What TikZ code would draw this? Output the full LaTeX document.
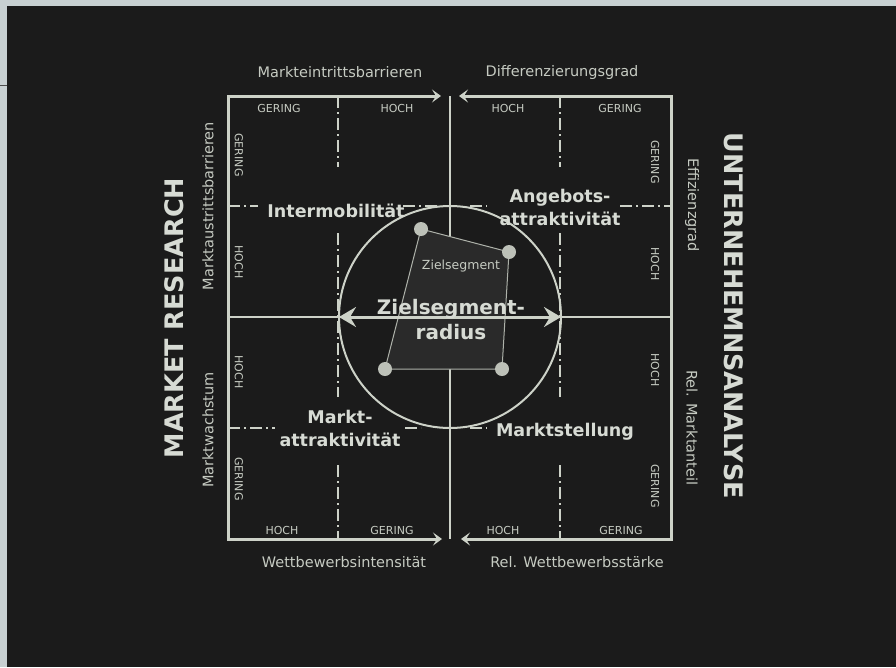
\documentclass[tikz,border=0pt]{standalone}
\usepackage{fontspec}
\setmainfont{DejaVu Sans}
\usetikzlibrary{arrows.meta,positioning,calc}
\definecolor{BoardDark}{RGB}{27,27,27}
\definecolor{FrameLight}{RGB}{200,208,210}
\definecolor{ChalkLine}{RGB}{205,210,200}
\definecolor{ChalkText}{RGB}{198,203,194}
\definecolor{SegFill}{RGB}{42,42,42}

\begin{document}
\begin{tikzpicture}[x=1pt,y=-1pt,
    axlbl/.style={text=ChalkText,font=\fontsize{14.5}{16}\selectfont,inner sep=0pt},
    lvl/.style={text=ChalkText,font=\fontsize{11}{12}\selectfont,inner sep=0pt},
    quad/.style={text=ChalkText!70!white,font=\fontsize{17.5}{23}\selectfont\bfseries,
               align=center,inner sep=0pt},
    side/.style={text=ChalkText!70!white,font=\fontsize{25.5}{28}\selectfont\bfseries,inner sep=0pt},
    frame/.style={draw=ChalkLine,line width=3pt,line cap=rect},
    edgearr/.style={-{Stealth[length=9pt,width=13pt,inset=4pt]},draw=ChalkLine,line width=3pt,line cap=rect},
    mid/.style={draw=ChalkLine,line width=1.6pt},
    dd/.style={draw=ChalkLine,line width=1.2pt,dash pattern=on 12pt off 4pt on 2pt off 4pt},
    ring/.style={draw=ChalkLine,line width=2pt},
    seg/.style={draw=ChalkLine!85!black,line width=1pt,fill=SegFill},
    dot/.style={circle,fill=ChalkLine!92!black,minimum size=14pt,inner sep=0pt},
    radarr/.style={{Stealth[length=17pt,width=20pt,inset=6pt]}-{Stealth[length=17pt,width=20pt,inset=6pt]},
               draw=ChalkLine,line width=3pt}
  ]
    \useasboundingbox (0,0) rectangle (896,667);
    \fill[FrameLight] (0,0) rectangle (896,667);
    \fill[BoardDark] (7,6) rectangle (896,667);
    \draw[black!70,line width=0.8pt] (0,85) -- (7,85);

    % quarter lines (dash-dot)
    \foreach \x in {338,560} {
      \draw[dd] (\x,96) -- (\x,167);
      \draw[dd] (\x,233) -- (\x,397);
      \draw[dd] (\x,465) -- (\x,539);
    }
    \draw[dd] (228,206) -- (258,206);
    \draw[dd] (403,206) -- (441,206);
    \draw[dd] (470,206) -- (487,206);
    \draw[dd] (620,206) -- (671,206);
    \draw[dd] (228,428) -- (275,428);
    \draw[dd] (405,428) -- (421,428);
    \draw[dd] (470,428) -- (487,428);

    % centre lines
    \coordinate (tc) at (450,96);
    \coordinate (bc) at (450,539);
    \coordinate (lc) at (228,317);
    \coordinate (rc) at (671,317);
    \draw[mid] (tc) -- (bc);
    \draw[mid] (lc) -- (rc);

    % target segment
    \coordinate (zc) at (450,317);
    \draw[ring] (zc) circle[radius=111];
    \coordinate (p1) at (421,229);
    \coordinate (p2) at (509,252);
    \coordinate (p3) at (502,369);
    \coordinate (p4) at (385,369);
    \draw[seg] (p1) -- (p2) -- (p3) -- (p4) -- cycle;
    \foreach \p in {p1,p2,p3,p4}
      \node[dot] (d\p) at (\p) {};
    \node[text=ChalkText,font=\fontsize{12.5}{14}\selectfont,inner sep=0pt] (zseg) at (461,266) {Zielsegment};
    \coordinate (rl) at (339,317);
    \coordinate (rr) at (561,317);
    \draw[radarr] (rl) -- (rr);
    \node[quad,font=\fontsize{20}{25}\selectfont\bfseries] (zrad) at (451,320) {Zielsegment-\\radius};

    % frame with arrows
    \coordinate (tl) at (228,96);
    \coordinate (tr) at (671,96);
    \coordinate (bl) at (228,539);
    \coordinate (br) at (671,539);
    \coordinate (ta) at (441,96);
    \coordinate (tb) at (459,96);
    \coordinate (ba) at (442,539);
    \coordinate (bb) at (461,539);
    \draw[frame] (tl) -- (bl);
    \draw[frame] (tr) -- (br);
    \draw[edgearr] (tl) -- (ta);
    \draw[edgearr] (tr) -- (tb);
    \draw[edgearr] (bl) -- (ba);
    \draw[edgearr] (br) -- (bb);

    % levels
    \foreach \x/\t in {279/GERING,397/HOCH,508/HOCH,620/GERING}
      \node[lvl] (t\x) at (\x,108) {\t};
    \foreach \x/\t in {282/HOCH,392/GERING,503/HOCH,621/GERING}
      \node[lvl] (b\x) at (\x,530) {\t};
    \foreach \y/\t in {155/GERING,262/HOCH,372/HOCH,479/GERING}
      \node[lvl,rotate=-90] (l\y) at (239,\y) {\t};
    \foreach \y/\t in {162/GERING,264/HOCH,370/HOCH,486/GERING}
      \node[lvl,rotate=-90] (r\y) at (655,\y) {\t};

    % quadrants
    \node[quad] (imob) at (336,211) {Intermobilität};
    \node[quad] (aattr) at (560,207) {Angebots-\\attraktivität};
    \node[quad] (mattr) at (340,428) {Markt-\\attraktivität};
    \node[quad] (mst) at (565,432) {Marktstellung};

    % axes
    \node[axlbl] (mebar) at (340,72) {Markteintrittsbarrieren};
    \node[axlbl] (difg) at (562,72) {Differenzierungsgrad};
    \node[axlbl] (wint) at (344,562) {Wettbewerbsintensität};
    \node[axlbl] (rws) at (577,562) {Rel. Wettbewerbsstärke};
    \node[axlbl,rotate=90] (mabar) at (208,206) {Marktaustrittsbarrieren};
    \node[axlbl,rotate=90] (mwach) at (208,430) {Marktwachstum};
    \node[axlbl,rotate=-90] (effg) at (692,205) {Effizienzgrad};
    \node[axlbl,rotate=-90] (rma) at (692,428) {Rel. Marktanteil};

    % titles
    \node[side,rotate=90] (mres) at (174,318) {MARKET RESEARCH};
    \node[side,rotate=-90] (uana) at (734,316) {UNTERNEHEMNSANALYSE};
  \end{tikzpicture}
\end{document}
